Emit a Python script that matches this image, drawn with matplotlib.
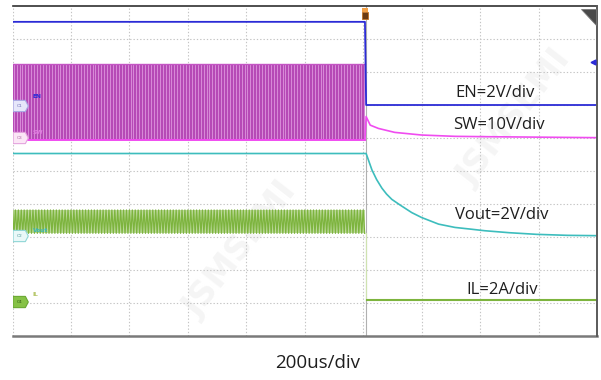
import numpy as np
import matplotlib
matplotlib.use("Agg")
import matplotlib.pyplot as plt
from matplotlib.patches import Polygon, Rectangle

# ---- scope data (x in time divisions, y in vertical divisions) ----
t_trig = 6.03                      # EN falling edge (trigger)
sw_period = 0.05                   # switching period seen on SW / IL

en_levels = [9.52, 7.00]           # EN high, EN low

sw_band = [5.95, 8.24]             # SW low / high while switching
sw_tail_t = [6.03, 6.05, 6.12, 6.26, 6.54, 7.00, 7.57, 8.08, 10.0]
sw_tail_v = [5.95, 6.65, 6.39, 6.29, 6.17, 6.09, 6.05, 6.04, 6.01]

vout_high = 5.53
vout_t = [0.0, 6.05, 6.10, 6.15, 6.23, 6.32, 6.40, 6.49, 6.63, 6.83, 7.00, 7.29, 7.57, 7.83, 8.08, 8.50, 8.97, 9.50, 10.0]
vout_v = [5.53, 5.53, 5.28, 5.03, 4.74, 4.48, 4.30, 4.14, 3.97, 3.74, 3.59, 3.39, 3.29, 3.24, 3.19, 3.13, 3.08, 3.05, 3.04]

il_band = [3.11, 3.82]             # inductor current ripple envelope
il_off = 1.09                      # IL after switching stops

channel_refs = {"C1": 6.97, "C3": 6.00, "C2": 3.03, "C4": 1.03}
channel_names = ["EN", "SW", "Vout", "IL"]
scale_labels = ["EN=2V/div", "SW=10V/div", "Vout=2V/div", "IL=2A/div"]
time_label = "200us/div"

# ---- colours ----
c_en = "#2b2bd6"
c_sw_band = "#b64ab6"
c_sw = "#f04cf0"
c_vout = "#3dbdbd"
c_il = "#7db43e"
c_grid = "#c4c4c4"

W, H = 601, 380
fig = plt.figure(figsize=(W / 100, H / 100), dpi=100)
fig.patch.set_facecolor("white")

x0, x1, y0, y1 = 12.5, 597.0, 6.0, 336.0   # screen area in pixels
ax = fig.add_axes([x0 / W, 1 - y1 / H, (x1 - x0) / W, (y1 - y0) / H])
ax.set_xlim(0, 10)
ax.set_ylim(0, 10)
ax.set_axis_off()

# faint watermark
for (wx, wy) in [(3.9, 2.6), (8.6, 6.6)]:
    ax.text(wx, wy, "JSMSEMI", fontsize=24, rotation=52, color="#f5f5f5",
            ha="center", va="center", fontweight="bold", zorder=0.2,
            family="DejaVu Sans")

# graticule
for g in range(0, 10):
    ax.plot([g, g], [0, 10], color=c_grid, lw=0.8, ls=(0, (1.2, 1.8)), zorder=1)
for g in range(1, 10):
    ax.plot([0, 10], [g, g], color=c_grid, lw=0.8, ls=(0, (1.2, 1.8)), zorder=1)

# screen border
ax.plot([0, 10], [10, 10], color="#303030", lw=1.2, zorder=6, clip_on=False)
ax.plot([0, 10], [0, 0], color="#7a7a7a", lw=1.8, zorder=6, clip_on=False)
ax.plot([10, 10], [0, 10], color="#5a5a5a", lw=1.4, zorder=6, clip_on=False)

# trigger position line
ax.plot([t_trig + 0.01, t_trig + 0.01], [0, 10], color="#b0b0b0", lw=0.8, zorder=1.5)

# ---- SW: switching band then ringing tail ----
ax.fill_between([0, t_trig], sw_band[0], sw_band[1], color=c_sw_band, lw=0, zorder=2)
stripes = np.arange(0.02, t_trig, sw_period)
ax.vlines(stripes, sw_band[0], sw_band[1], color="#e7a6e7", lw=0.55, alpha=0.9, zorder=2.1)
ax.plot([0, t_trig], [sw_band[1], sw_band[1]], color="#c455c4", lw=1.0, zorder=2.2)
ax.plot([0, t_trig], [sw_band[0], sw_band[0]], color=c_sw, lw=1.4, zorder=2.2)
ax.plot(sw_tail_t, sw_tail_v, color=c_sw, lw=1.2, zorder=3)

# ---- EN ----
ax.plot([0, t_trig, t_trig + 0.02, 10],
        [en_levels[0], en_levels[0], en_levels[1], en_levels[1]],
        color=c_en, lw=1.3, zorder=4)

# ---- Vout ----
ax.plot(vout_t, vout_v, color=c_vout, lw=1.2, zorder=3)

# ---- IL: triangular ripple then zero current ----
tri_t = np.arange(0, t_trig, sw_period / 2)
tri_v = np.where(np.arange(tri_t.size) % 2 == 0, il_band[1], il_band[0])
ax.fill_between([0, t_trig], il_band[0], il_band[1], color="#bcd99a", lw=0, zorder=2)
ax.plot(tri_t, tri_v, color=c_il, lw=0.9, zorder=2.3)
ax.plot([t_trig + 0.01, t_trig + 0.01], [il_band[0], il_off], color="#cfe3b0", lw=0.8, zorder=2.3)
ax.plot([t_trig + 0.04, 10], [il_off, il_off], color=c_il, lw=1.5, zorder=3)

# ---- channel reference tags and names ----
tag_style = {
    "C1": ("#e6e6fa", "#a9a9e3", "#6f6fb8"),
    "C3": ("#fbe6f6", "#e4a4de", "#b06aa8"),
    "C2": ("#e9f8f8", "#8fd6d6", "#4e9a9a"),
    "C4": ("#86c246", "#6aa832", "#2f5a12"),
}
for name, yref in channel_refs.items():
    fc, ec, tc = tag_style[name]
    xs = [0.01, 0.22, 0.27, 0.22, 0.01]
    ys = [yref + 0.17, yref + 0.17, yref, yref - 0.17, yref - 0.17]
    ax.add_patch(Polygon(list(zip(xs, ys)), closed=True, fc=fc, ec=ec, lw=0.8, zorder=5))
    ax.text(0.12, yref, name, fontsize=3.2, color=tc, ha="center", va="center", zorder=6)

name_pos = [(0.35, 7.25, c_en), (0.35, 6.17, "#e27ee2"), (0.35, 3.21, "#3fb8b8"), (0.35, 1.25, "#b6c76a")]
for nm, (nx, ny, nc) in zip(channel_names, name_pos):
    ax.text(nx, ny, nm, fontsize=4.2, color=nc, ha="left", va="center", zorder=6,
            fontweight="bold")

# trigger tag at top of screen
ax.add_patch(Rectangle((5.98, 9.61), 0.1, 0.2, fc="#6b3a12", ec="#c07020", lw=0.6, zorder=7, clip_on=False))
ax.add_patch(Rectangle((5.98, 9.81), 0.1, 0.12, fc="#f2a046", ec="none", zorder=7, clip_on=False))

# screen corner marker and EN offset arrow
ax.add_patch(Polygon([(9.72, 9.90), (9.98, 9.90), (9.98, 9.42)], closed=True,
                     fc="#4a4a4a", ec="#777777", lw=0.6, zorder=7))
ax.plot([9.93], [8.30], marker="<", ms=3.5, color=c_en, mec=c_en, zorder=7)

# ---- scale annotations ----
font = ["Open Sans", "DejaVu Sans"]
label_px = [(455, 97), (453, 129), (455, 219), (466, 294)]
for txt, (px, py) in zip(scale_labels, label_px):
    fig.text(px / W, 1 - py / H, txt, fontsize=12, color="#1e1e1e",
             ha="left", va="baseline", family=font)

fig.text(318 / W, 1 - 368 / H, time_label, fontsize=13.5, color="#1e1e1e",
         ha="center", va="baseline", family=font)

fig.savefig("out.png", dpi=100, facecolor="white")
